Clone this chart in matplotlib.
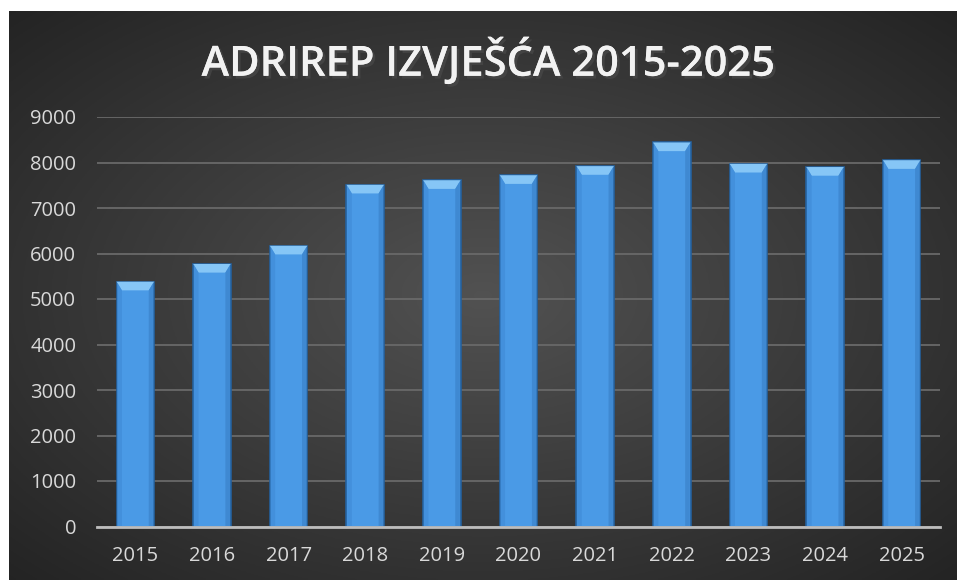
import numpy as np
import matplotlib
matplotlib.use("Agg")
import matplotlib.pyplot as plt
from matplotlib.patches import Polygon
import matplotlib.patheffects as pe

# Broj izvješća po godini
years = ["2015", "2016", "2017", "2018", "2019", "2020",
         "2021", "2022", "2023", "2024", "2025"]
reports = [5380, 5770, 6170, 7510, 7610, 7720, 7920, 8440, 7970, 7900, 8050]
yticks = [0, 1000, 2000, 3000, 4000, 5000, 6000, 7000, 8000, 9000]

W, H = 957, 580
fig = plt.figure(figsize=(W / 100, H / 100), dpi=100, facecolor="white")

# dark radial background, with a white strip top and left
bg = fig.add_axes([9 / W, 0, 1 - 9 / W, (H - 11) / H])
bg.set_axis_off()
gx, gy = np.meshgrid(np.linspace(-1, 1, 400), np.linspace(-1, 1, 250))
r = np.sqrt(gx ** 2 + gy ** 2) / np.sqrt(2)
shade = 0.32 - 0.18 * r
bg.imshow(np.dstack([shade] * 3), aspect="auto", extent=[0, 1, 0, 1])
bg.set_xlim(0, 1)
bg.set_ylim(0, 1)

ax = fig.add_axes([97 / W, (H - 526.5) / H, (940 - 97) / W, (526.5 - 117) / H])
ax.patch.set_alpha(0)
x = np.arange(len(years))
width = 0.49

ax.bar(x, reports, width=width, color="#4a9ae6", edgecolor="#24609c",
       linewidth=1.2, zorder=3)
# bevelled top
bev_h = 190
bev_d = 0.07
for xi, v in zip(x, reports):
    ax.add_patch(Polygon([(xi - width / 2, v), (xi + width / 2, v),
                          (xi + width / 2 - bev_d, v - bev_h),
                          (xi - width / 2 + bev_d, v - bev_h)],
                         closed=True, facecolor="#86c6f6", edgecolor="none",
                         zorder=4))
    ax.add_patch(Polygon([(xi - width / 2 + 0.01, v - 20), (xi - width / 2 + bev_d, v - bev_h),
                          (xi - width / 2 + bev_d, 0), (xi - width / 2 + 0.01, 0)],
                         closed=True, facecolor="#4390dc", edgecolor="none",
                         zorder=4))
    ax.add_patch(Polygon([(xi + width / 2 - 0.01, v - 20), (xi + width / 2 - bev_d, v - bev_h),
                          (xi + width / 2 - bev_d, 0), (xi + width / 2 - 0.01, 0)],
                         closed=True, facecolor="#3f89d2", edgecolor="none",
                         zorder=4))

ax.set_xlim(-0.5, len(years) - 0.5)
ax.set_ylim(0, 9000)
ax.set_yticks(yticks)
ax.set_xticks(x)
ax.set_xticklabels(years)
ax.grid(axis="y", color="#696969", linewidth=1.3, zorder=0)
ax.set_axisbelow(True)
for s in ["top", "right", "left"]:
    ax.spines[s].set_visible(False)
ax.spines["bottom"].set_color("#bdbdbd")
ax.spines["bottom"].set_linewidth(2)
ax.spines["bottom"].set_zorder(5)
ax.tick_params(length=0, colors="#d9d9d9", labelsize=14.5)
ax.tick_params(axis="x", pad=14)
ax.tick_params(axis="y", pad=15)
for lab in ax.get_xticklabels() + ax.get_yticklabels():
    lab.set_family("Open Sans")

fig.text(488 / W, 1 - 62 / H, "ADRIREP IZVJEŠĆA 2015-2025", ha="center",
         va="center", color="#f2f2f2", fontsize=30, fontweight="semibold",
         family="Open Sans",
         path_effects=[pe.withSimplePatchShadow(offset=(2, -2), alpha=0.7),
                       pe.Normal()])

fig.savefig("out.png", dpi=100, facecolor=fig.get_facecolor())
